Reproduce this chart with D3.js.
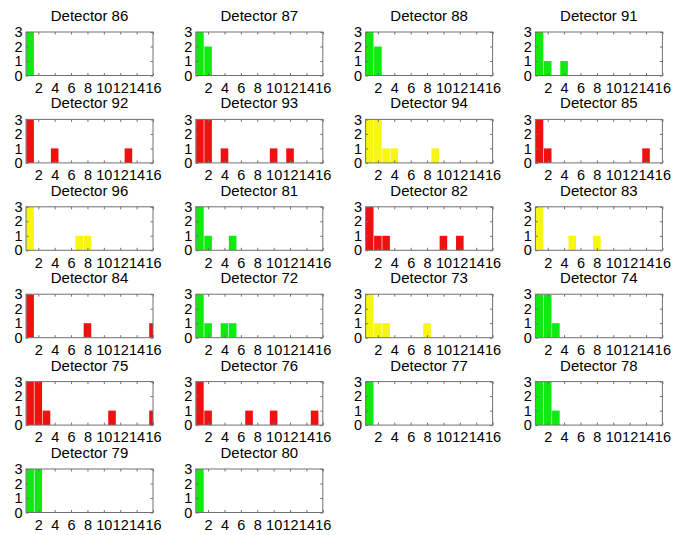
<!DOCTYPE html>
<html>
<head>
<meta charset="utf-8">
<script src="https://cdn.jsdelivr.net/npm/d3@7"></script>
<style>
  html, body { margin: 0; padding: 0; background: #fff; }
  svg { display: block; font-family: "Liberation Sans", Arial, sans-serif; }
</style>
</head>
<body>
<svg id="chart" width="673" height="535"></svg>
<script>
// Detector labels in panel order (row by row, four per row)
const detectorIds = [86, 87, 88, 91, 92, 93, 94, 85, 96, 81, 82, 83, 84, 72, 73, 74, 75, 76, 77, 78, 79, 80];

// Status colour class of each detector
const detectorStatus = ["g", "g", "g", "g", "r", "r", "y", "r", "y", "g", "r", "y",
                        "r", "g", "y", "g", "r", "r", "g", "g", "g", "g"];

// Counts per bin (bins 1..16) for each detector
const detectorCounts = [
  [3,0,0,0,0,0,0,0,0,0,0,0,0,0,0,0], // 86
  [3,2,0,0,0,0,0,0,0,0,0,0,0,0,0,0], // 87
  [3,2,0,0,0,0,0,0,0,0,0,0,0,0,0,0], // 88
  [3,1,0,1,0,0,0,0,0,0,0,0,0,0,0,0], // 91
  [3,0,0,1,0,0,0,0,0,0,0,0,1,0,0,0], // 92
  [3,3,0,1,0,0,0,0,0,1,0,1,0,0,0,0], // 93
  [3,3,1,1,0,0,0,0,1,0,0,0,0,0,0,0], // 94
  [3,1,0,0,0,0,0,0,0,0,0,0,0,1,0,0], // 85
  [3,0,0,0,0,0,1,1,0,0,0,0,0,0,0,0], // 96
  [3,1,0,0,1,0,0,0,0,0,0,0,0,0,0,0], // 81
  [3,1,1,0,0,0,0,0,0,1,0,1,0,0,0,0], // 82
  [3,0,0,0,1,0,0,1,0,0,0,0,0,0,0,0], // 83
  [3,0,0,0,0,0,0,1,0,0,0,0,0,0,0,1], // 84
  [3,1,0,1,1,0,0,0,0,0,0,0,0,0,0,0], // 72
  [3,1,1,0,0,0,0,1,0,0,0,0,0,0,0,0], // 73
  [3,3,1,0,0,0,0,0,0,0,0,0,0,0,0,0], // 74
  [3,3,1,0,0,0,0,0,0,0,1,0,0,0,0,1], // 75
  [3,1,0,0,0,0,1,0,0,1,0,0,0,0,1,0], // 76
  [3,0,0,0,0,0,0,0,0,0,0,0,0,0,0,0], // 77
  [3,3,1,0,0,0,0,0,0,0,0,0,0,0,0,0], // 78
  [3,3,0,0,0,0,0,0,0,0,0,0,0,0,0,0], // 79
  [3,0,0,0,0,0,0,0,0,0,0,0,0,0,0,0]  // 80
];

const bins = d3.range(1, 17);
const xTickValues = [2, 4, 6, 8, 10, 12, 14, 16];
const yTickValues = [0, 1, 2, 3];
const statusColor = { g: "#0fea0f", r: "#f01010", y: "#f6f610" };

// Panel grid geometry
const nCols = 4;
const boxLeft0 = 26, colStep = 169.8, boxW = 127;
const boxTop0 = 32, rowStep = 87.4, boxH = 43.5;

const svg = d3.select("#chart");
const axisColor = "#707070";
const tickFont = "14.5px";

const x = d3.scaleLinear().domain([0.5, 16]).range([0, boxW]);
const y = d3.scaleLinear().domain([0, 3]).range([boxH, 0]);

detectorIds.forEach((id, i) => {
  const col = i % nCols, row = Math.floor(i / nCols);
  const left = boxLeft0 + col * colStep;
  const top = boxTop0 + row * rowStep;
  const g = svg.append("g").attr("transform", `translate(${left},${top})`);

  const clipId = `clip-${i}`;
  g.append("clipPath").attr("id", clipId)
    .append("rect").attr("width", boxW).attr("height", boxH);

  // bars
  const counts = detectorCounts[i];
  g.append("g").attr("clip-path", `url(#${clipId})`)
    .selectAll("rect")
    .data(bins.filter(b => counts[b - 1] > 0))
    .join("rect")
    .attr("x", b => x(b - 0.5) + 0.3)
    .attr("width", b => x(b + 0.5) - x(b - 0.5) - 0.6)
    .attr("y", b => y(counts[b - 1]))
    .attr("height", b => y(0) - y(counts[b - 1]))
    .attr("fill", statusColor[detectorStatus[i]]);

  // bottom axis with labels, ticks pointing inward
  const xb = g.append("g").attr("transform", `translate(0,${boxH})`)
    .call(d3.axisBottom(x).tickValues(xTickValues).tickFormat(d3.format("d"))
      .tickSizeInner(-2.5).tickSizeOuter(0));
  // top axis ticks only
  const xt = g.append("g")
    .call(d3.axisTop(x).tickValues(xTickValues).tickSizeInner(-2.5).tickSizeOuter(0).tickFormat(""));
  // left axis with labels
  const yl = g.append("g")
    .call(d3.axisLeft(y).tickValues(yTickValues).tickFormat(d3.format("d"))
      .tickSizeInner(-2.5).tickSizeOuter(0));
  // right axis ticks only
  const yr = g.append("g").attr("transform", `translate(${boxW},0)`)
    .call(d3.axisRight(y).tickValues(yTickValues).tickSizeInner(-2.5).tickSizeOuter(0).tickFormat(""));

  [xb, xt, yl, yr].forEach(a => {
    a.select(".domain").remove();
    a.selectAll(".tick line").attr("stroke", axisColor);
    a.selectAll(".tick text").attr("fill", "#000").style("font-size", tickFont)
      .style("font-family", "'Liberation Sans', Arial, sans-serif");
  });
  xb.selectAll(".tick text").attr("dy", "0.71em").attr("y", 7);
  yl.selectAll(".tick text").attr("x", -3.5);

  // frame
  g.append("rect").attr("width", boxW).attr("height", boxH)
    .attr("fill", "none").attr("stroke", axisColor).attr("stroke-width", 1);

  // title
  g.append("text")
    .attr("x", boxW / 2).attr("y", -11)
    .attr("text-anchor", "middle")
    .style("font-size", "15px")
    .attr("fill", "#000")
    .text(`Detector ${id}`);
});
</script>
</body>
</html>
